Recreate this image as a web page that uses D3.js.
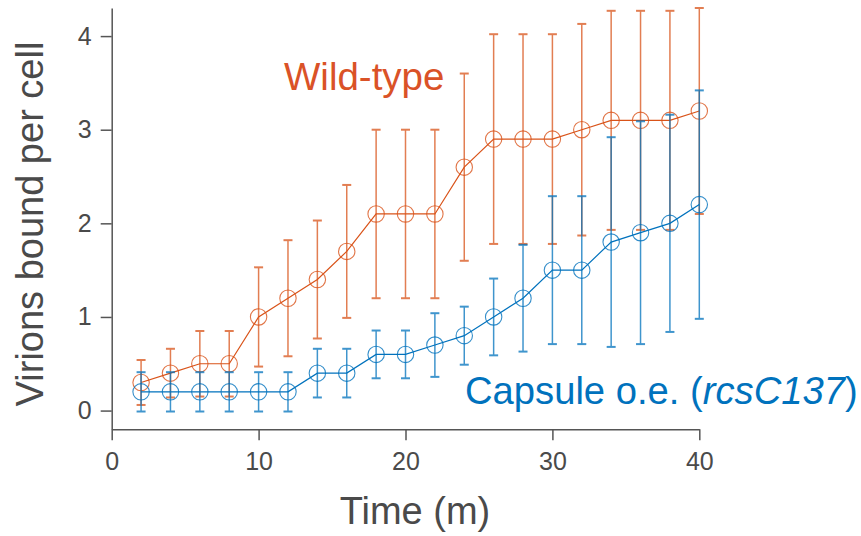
<!DOCTYPE html>
<html>
<head>
<meta charset="utf-8">
<script src="https://cdn.jsdelivr.net/npm/d3@7"></script>
<style>
  html, body { margin: 0; padding: 0; background: #fff; }
  svg { display: block; font-family: "Liberation Sans", Arial, Helvetica, sans-serif; }
</style>
</head>
<body>
<svg id="chart" width="861" height="536"></svg>
<script>
// ---- data ----
const times = [2,4,6,8,10,12,14,16,18,20,22,24,26,28,30,32,34,36,38,40];
const wildTypeMean = [0.3,0.4,0.5,0.5,1.0,1.2,1.4,1.7,2.1,2.1,2.1,2.6,2.9,2.9,2.9,3.0,3.1,3.1,3.1,3.2];
const wildTypeErr  = [0.24,0.26,0.35,0.35,0.53,0.62,0.63,0.71,0.9,0.9,0.9,1.0,1.12,1.12,1.12,1.13,1.17,1.17,1.17,1.1];
const capsuleMean  = [0.2,0.2,0.2,0.2,0.2,0.2,0.4,0.4,0.6,0.6,0.7,0.8,1.0,1.2,1.5,1.5,1.8,1.9,2.0,2.2];
const capsuleErr   = [0.21,0.21,0.21,0.21,0.21,0.21,0.26,0.26,0.255,0.255,0.34,0.31,0.41,0.57,0.79,0.79,1.12,1.19,1.16,1.22];
const xTicks = [0,10,20,30,40];
const yTicks = [0,1,2,3,4];
const xLabel = "Time (m)";
const yLabel = "Virions bound per cell";

const svg = d3.select("#chart");
const x = d3.scaleLinear().domain([0,40]).range([111.7, 699.3]);
const y = d3.scaleLinear().domain([-0.2, 4.3]).range([429.3, 8]);

const axisColor = "#555555";
const textColor = "#4a4a4a";

// axes
const xAxis = svg.append("g").attr("transform", `translate(0,${y(-0.2)})`)
  .call(d3.axisBottom(x).tickValues(xTicks).tickFormat(d3.format("d")).tickSize(11).tickSizeOuter(0).tickPadding(12));
const yAxis = svg.append("g").attr("transform", `translate(${x(0)},0)`)
  .call(d3.axisLeft(y).tickValues(yTicks).tickFormat(d3.format("d")).tickSize(11).tickSizeOuter(0).tickPadding(9));
[xAxis, yAxis].forEach(g => {
  g.select(".domain").attr("stroke", axisColor).attr("stroke-width", 1.5);
  g.selectAll(".tick line").attr("stroke", axisColor).attr("stroke-width", 1.5);
  g.selectAll(".tick text").attr("fill", textColor).attr("font-size", 25)
    .attr("font-family", "'Liberation Sans', Arial, sans-serif");
});

// axis labels
svg.append("text").attr("x", 415).attr("y", 524).attr("text-anchor", "middle")
  .attr("font-size", 38).attr("fill", textColor).text(xLabel);
svg.append("text").attr("transform", `translate(43,224) rotate(-90)`).attr("text-anchor", "middle")
  .attr("font-size", 38).attr("fill", textColor).text(yLabel);

function drawSeries(mean, err, color) {
  const g = svg.append("g");
  const data = times.map((t,i) => ({t, m: mean[i], e: err[i]}));
  const cap = 4.5;
  const eb = g.append("g").attr("stroke", color).attr("stroke-width", 1.5).attr("opacity", 0.75);
  eb.selectAll("line.v").data(data).join("line")
    .attr("x1", d => x(d.t)).attr("x2", d => x(d.t))
    .attr("y1", d => y(d.m - d.e)).attr("y2", d => y(d.m + d.e));
  eb.selectAll("line.t").data(data).join("line")
    .attr("x1", d => x(d.t) - cap).attr("x2", d => x(d.t) + cap)
    .attr("y1", d => y(d.m + d.e)).attr("y2", d => y(d.m + d.e)).attr("stroke-width", 2);
  eb.selectAll("line.b").data(data).join("line")
    .attr("x1", d => x(d.t) - cap).attr("x2", d => x(d.t) + cap)
    .attr("y1", d => y(d.m - d.e)).attr("y2", d => y(d.m - d.e)).attr("stroke-width", 2);
  g.append("path").datum(data)
    .attr("fill", "none").attr("stroke", color).attr("stroke-width", 1.2)
    .attr("d", d3.line().x(d => x(d.t)).y(d => y(d.m)));
  g.selectAll("circle").data(data).join("circle")
    .attr("cx", d => x(d.t)).attr("cy", d => y(d.m)).attr("r", 8.2)
    .attr("fill", "none").attr("stroke", color).attr("stroke-width", 1.1).attr("opacity", 0.8);
}

const orange = "#D95319";
const blue = "#0072BD";
drawSeries(wildTypeMean, wildTypeErr, orange);
drawSeries(capsuleMean, capsuleErr, blue);

// series labels
svg.append("text").attr("x", 284).attr("y", 90).attr("font-size", 38.5)
  .attr("fill", "#DA5227").text("Wild-type");
const cl = svg.append("text").attr("x", 465).attr("y", 404).attr("font-size", 38.2).attr("fill", blue);
cl.append("tspan").text("Capsule o.e. (");
cl.append("tspan").attr("font-style", "italic").text("rcsC137");
cl.append("tspan").text(")");
</script>
</body>
</html>
